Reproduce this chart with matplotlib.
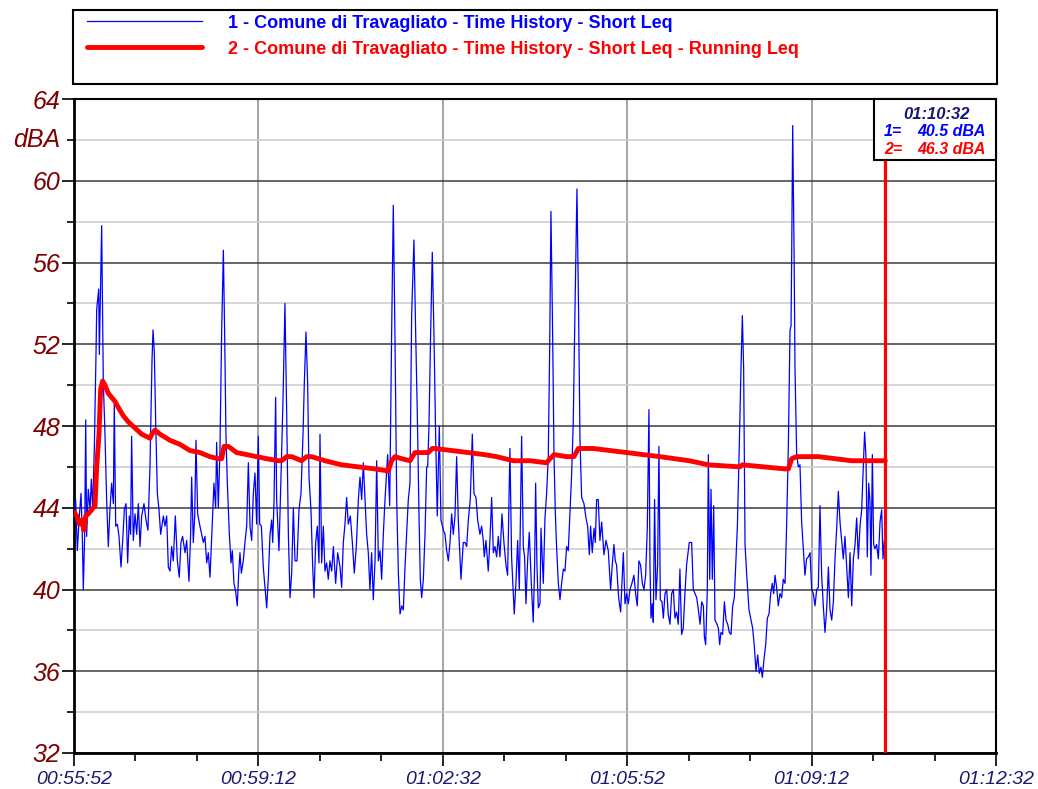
import matplotlib
matplotlib.use('Agg')
import matplotlib.pyplot as plt
from matplotlib.ticker import MultipleLocator, FuncFormatter
from matplotlib.patches import Rectangle

plt.rcParams['font.family'] = ['Liberation Sans', 'DejaVu Sans']
plt.rcParams['font.style'] = 'italic'  # tick labels are italic in the original

start_sec = 55 * 60 + 52  # 00:55:52
cursor_t = 880

# short Leq, seconds from start / dBA
blue_t = [0, 1.8, 3.6, 5.8, 7.6, 9.0, 10.1, 11.6, 12.7, 13.7, 15.5, 17.4, 18.8, 20.2, 22.0, 23.9, 24.6, 26.8,
          27.5, 30.0, 31.8, 33.6, 35.4, 37.2, 39.0, 40.8, 42.7, 43.7, 45.2, 47.0, 48.8, 51.0, 52.8, 54.6, 56.4,
          58.2, 60.0, 61.4, 62.5, 64.3, 66.2, 68.0, 69.8, 71.6, 73.4, 75.9, 78.1, 80.2, 82.4, 84.6, 85.7, 87.1,
          88.9, 90.4, 92.2, 94.0, 96.9, 98.7, 100.5, 102.3, 104.1, 105.9, 107.7, 109.9, 112.1, 114.2, 116.0,
          117.8, 120.4, 122.2, 124.7, 126.5, 127.6, 129.4, 130.9, 132.3, 134.1, 136.6, 138.4, 140.3, 142.1,
          143.9, 145.7, 147.5, 149.7, 151.8, 153.6, 154.7, 156.5, 158.3, 160.1, 162.0, 163.4, 164.8, 166.3,
          168.5, 170.3, 171.7, 173.5, 175.3, 177.1, 178.6, 180.0, 181.5, 183.6, 185.4, 187.3, 189.1, 190.9,
          192.7, 194.5, 196.3, 198.1, 199.9, 201.4, 203.2, 205.3, 207.1, 209.0, 210.8, 212.6, 214.4, 215.5,
          216.9, 218.7,
          219.8, 222.3, 224.5, 226.7, 228.8, 230.7, 232.5, 234.3, 236.1, 237.9, 239.7, 241.9, 244.0, 246.2,
          248.4, 249.8, 251.6, 253.4, 254.9, 257.0, 258.9, 260.3, 262.1, 263.9, 265.7, 266.8, 268.6, 270.4,
          272.2, 274.0, 275.8, 277.6, 279.5, 281.3, 283.8, 286.0, 288.5, 290.3, 292.1, 293.9, 295.7, 297.5,
          299.7, 301.9, 304.0, 306.2, 308.4, 310.2, 312.0, 313.8, 315.6, 317.4, 319.2, 321.0, 322.8, 324.6,
          326.5, 328.3, 330.1, 331.9, 333.7, 335.5, 337.3, 340.2, 342.4, 344.5, 346.3, 348.1, 350.0, 351.8,
          353.6, 355.4, 357.2, 359.0, 360.8, 362.6, 364.4, 366.2, 368.7, 370.6, 372.4, 374.2, 375.6, 377.1,
          378.9, 380.7, 382.5, 383.6, 385.0, 386.8, 388.6, 390.4, 392.2, 394.0, 396.2, 398.0, 400.6, 402.4,
          404.2, 406.0, 407.8, 409.6, 411.4, 413.2, 415.0, 416.8, 419.7, 422.2, 424.1, 425.9, 427.7, 429.8,
          432.0, 433.8, 436.0, 437.8, 440.3, 442.1, 443.9, 445.0,
          446.8, 449.3, 451.1, 453.0, 454.8, 456.6, 458.4, 460.2, 462.0, 464.2, 466.3, 468.5, 470.3, 472.8,
          474.6, 476.5, 477.5, 479.3, 481.2, 483.0, 485.5, 487.3, 488.7, 490.2, 492.0, 493.8, 496.0, 498.1,
          499.6, 500.7, 502.1, 503.6, 505.4, 506.5, 509.0, 510.8, 512.6, 514.4, 515.9, 517.3, 519.1, 520.6,
          522.0, 523.4, 525.3, 527.1, 528.9, 530.7, 532.5, 534.3, 536.1, 537.9, 539.7, 541.5, 543.3, 545.5,
          547.3, 548.8, 550.6, 553.1, 555.3, 557.1, 558.9, 560.3, 562.1, 564.0, 565.4, 566.8, 568.6, 570.4,
          572.3, 574.8, 577.0, 579.5, 582.0, 583.8, 585.6, 587.1, 588.5, 590.7, 592.9, 594.3, 595.8, 597.6,
          599.4, 601.2, 603.0, 605.1, 607.3, 609.1, 610.9, 612.7, 614.5, 616.4, 618.2, 620.0, 621.8, 623.6,
          624.7, 625.8, 627.2, 628.3, 629.7, 631.2, 633.0, 634.4, 635.9, 637.7, 639.2, 641.0, 642.8, 644.5,
          646.4, 648.2, 650.0, 651.8, 653.6, 655.4, 657.2, 659.0, 660.8, 662.6, 664.4, 667.3,
          669.9, 671.7, 673.5, 675.4, 677.2, 679.0, 680.8, 682.6, 683.7, 685.1, 686.9, 688.0, 689.5, 690.9,
          692.3, 693.8, 695.2, 697.4, 698.9, 700.3, 701.7, 703.5, 705.4, 707.2, 709.0, 710.8, 712.6, 714.4,
          716.2, 718.0, 719.5, 721.6, 723.4, 724.9, 726.3, 727.8, 729.9, 732.1, 734.3, 736.1, 737.9, 739.7,
          741.5, 743.3, 745.1, 746.6, 748.4, 750.2, 752.0, 753.8, 755.6, 757.4, 758.9, 760.3, 762.1, 763.9,
          765.7, 767.5, 769.3, 771.2, 773.0, 774.8, 776.6, 777.7, 778.4, 779.5, 781.0, 782.0, 783.8, 785.6,
          787.4, 789.2, 791.0, 792.8, 794.6, 796.5, 798.3, 800.1, 801.9, 803.7, 805.5, 807.3, 809.1, 810.9,
          812.7, 814.5, 816.3, 818.2, 820.0, 821.8, 823.6, 825.4, 827.2, 829.0, 830.8, 832.6, 834.4, 836.2,
          838.0, 839.9, 841.7, 843.5, 845.3, 847.1, 848.9, 850.7, 852.5, 854.3, 856.1, 857.5, 859.0, 860.4,
          861.9, 863.3, 864.4, 865.9, 867.3, 868.7, 870.5, 872.4, 874.2, 876.0, 877.4, 878.9, 880.0]
blue_v = [44.0, 44.4, 41.9, 43.6, 44.7, 42.7, 40.0, 42.7, 48.3, 42.6, 44.9, 43.9, 45.4, 44.0, 46.8, 51.6, 53.7, 54.7,
          51.5, 57.8, 50.1, 47.6, 44.4, 42.1, 43.9, 45.2, 44.2, 49.2, 43.1, 43.2, 42.6, 41.1, 42.4, 43.9, 44.2,
          41.3, 43.6, 42.7, 47.5, 42.4, 43.7, 42.7, 44.2, 42.1, 43.6, 44.2, 43.4, 42.9, 46.0, 51.2, 52.7, 51.6,
          47.6, 44.7, 43.9, 42.7, 43.6, 43.1, 43.6, 41.1, 40.9, 42.1, 41.4, 43.6, 41.4, 40.6, 42.3,
          42.6, 41.8, 42.4, 40.4, 42.7, 45.5, 42.3, 43.6, 47.3, 43.7, 43.1, 42.7, 42.3, 42.6,
          41.3, 41.8, 40.6, 42.9, 45.2, 44.0, 47.2, 44.0, 46.8, 52.5, 56.6, 52.5, 47.6, 45.2,
          42.7, 41.3, 41.9, 40.3, 39.9, 39.2, 40.8, 41.8, 40.8, 41.4, 42.3, 43.1, 46.2, 43.1,
          42.4, 44.7, 45.7, 43.2, 47.5, 43.2, 43.1, 41.1, 40.1, 39.1, 40.6, 42.7, 43.4, 42.3,
          44.2, 49.4,
          44.4, 41.9, 45.5, 49.3, 54.0, 48.5, 42.7, 39.6, 40.8, 44.0, 41.4, 41.4, 43.9, 44.7,
          47.6, 50.1, 52.6, 50.1, 45.5, 43.9, 41.1, 39.6, 42.3, 43.1, 41.3, 47.6, 41.3, 43.1,
          40.9, 41.3, 40.5, 41.4, 40.9, 42.1, 40.3, 41.8, 41.1, 40.1, 42.3, 43.2, 44.5, 43.2,
          43.6, 42.3, 40.8, 42.1, 44.4, 45.5, 44.4, 46.2, 44.4, 42.7, 41.8, 40.0, 41.8, 39.5,
          41.4, 46.3, 41.4, 41.9, 40.5, 42.7, 44.4, 46.6, 44.1, 52.5, 58.8, 52.5, 44.4, 40.8,
          38.8, 39.2, 39.0, 41.1, 42.7, 44.4, 45.2, 53.4, 57.1, 52.5, 48.5, 43.6, 40.5, 39.6,
          40.5, 42.7, 46.0, 46.0, 48.0, 52.5, 56.5, 52.5, 47.6, 43.6, 48.0, 43.4, 42.9, 42.7,
          41.9, 41.4, 42.3, 43.7, 42.7, 43.6, 46.5, 43.4, 40.5, 42.3, 42.3, 42.1, 43.4, 44.4,
          47.6, 44.7, 44.5, 43.4, 42.7, 43.1, 42.4, 41.6,
          42.4, 40.9, 42.4, 44.5, 41.8, 42.1, 41.6, 42.6, 41.6, 43.7, 42.3, 41.2, 40.7, 46.9,
          41.6, 39.8, 38.8, 40.3, 42.4, 40.0, 47.5, 42.1, 41.6, 39.3, 41.4, 42.8, 40.3, 38.4,
          41.2, 45.2, 41.2, 39.1, 39.3, 43.0, 40.3, 43.5, 44.7, 46.5, 51.7, 58.5, 52.6, 46.6,
          43.8, 42.1, 40.3, 39.5, 40.3, 41.0, 40.9, 42.1, 41.9, 43.8, 45.6, 48.2, 53.5, 59.6,
          53.5, 47.3, 44.5, 44.2, 43.5, 43.1, 41.7, 43.1, 41.8, 43.0, 42.3, 44.4, 44.4, 42.4,
          43.3, 41.7, 42.4, 41.9, 40.0, 41.2, 42.2, 41.4, 41.2, 39.6, 38.9, 40.3, 41.8, 39.3,
          39.8, 39.3, 40.0, 40.3, 40.7, 39.8, 39.2, 41.4, 41.2, 40.3, 40.0, 40.7, 43.0, 48.8,
          41.2, 38.6, 39.3, 38.4, 44.4, 39.5, 41.2, 47.0, 39.5, 39.4, 38.6, 39.8, 40.0, 38.8,
          38.3, 39.8, 40.0, 38.6, 38.9, 38.3, 41.0, 37.8, 38.1, 39.8, 41.2, 42.3,
          42.3, 40.0, 39.8, 39.6, 39.0, 38.3, 39.4, 39.2, 37.7, 37.3, 40.0, 46.6, 40.5, 44.9,
          40.5, 44.1, 38.5, 38.3, 38.1, 37.3, 37.9, 37.8, 39.4, 38.5, 38.3, 37.9, 37.8, 39.2,
          39.6, 41.5, 43.1, 47.1, 50.8, 53.4, 50.8, 42.2, 40.5, 39.0, 38.5, 38.1, 37.2, 36.0,
          36.8, 35.9, 36.2, 35.7, 36.6, 37.3, 38.6, 38.8, 39.8, 40.3, 39.8, 40.7, 40.1, 39.2,
          39.8, 39.6, 40.5, 40.3, 43.3, 47.1, 52.7, 52.9, 56.4, 62.7, 56.4, 50.8, 46.6, 46.0,
          46.1, 43.3, 42.0, 40.7, 41.5, 41.6, 41.8, 40.0, 39.8, 39.2, 40.0, 40.1, 44.1, 40.7,
          39.2, 37.9, 39.0, 41.1, 39.0, 38.5, 39.4, 41.5, 43.0, 44.8, 43.3, 42.4, 41.5, 42.6,
          41.1, 39.6, 41.8, 39.2, 41.5, 42.2, 43.5, 41.5, 43.1, 43.9, 46.0, 47.7, 46.5, 41.6,
          45.2, 44.3, 40.7, 46.6, 42.2, 42.0, 42.2, 41.5, 43.3, 43.9, 41.5, 42.4, 40.5]

# running Leq
red_t = [0, 2.9, 5.8, 8.3, 10.8, 12.7, 15.5, 19.2, 22.8, 24.6, 27.1, 28.9, 31.1, 33.6, 37.2, 40.8, 44.5, 48.1,
         53.5, 58.9, 66.2, 73.4, 82.4, 84.5, 87.8, 93.3, 104.1, 115.0, 125.8, 136.6, 147.5, 156.5, 160.1, 162.7,
         167.4, 176.4, 187.3, 198.1, 209.0, 221.6, 225.2, 230.7, 236.1, 246.9, 252.3, 257.8, 272.2, 290.3,
         308.4, 326.5, 340.9, 344.5, 348.1, 355.4, 364.4, 369.8, 384.3, 388.6, 391.5, 409.6, 427.7, 445.0,
         458.4, 476.5, 494.5, 512.6, 516.2, 520.6, 534.3, 542.2, 547.0, 563.2, 599.4, 635.5, 667.3, 688.0,
         722.3, 724.9, 771.2, 774.8, 778.4, 783.8, 807.3, 843.5, 880.0]
red_v = [43.8, 43.6, 43.2, 43.4, 42.9, 43.6, 43.7, 43.9, 44.1, 46.0, 47.6, 49.8, 50.2, 50.0, 49.6, 49.4, 49.2, 48.9,
         48.5, 48.2, 47.9, 47.6, 47.4, 47.6, 47.8, 47.6, 47.3, 47.1, 46.8, 46.7, 46.5, 46.4, 46.4, 47.0,
         47.0, 46.7, 46.6, 46.5, 46.4, 46.3, 46.3, 46.5, 46.5, 46.3, 46.5, 46.5, 46.3, 46.1,
         46.0, 45.9, 45.8, 46.3, 46.5, 46.4, 46.3, 46.7, 46.7, 46.9, 46.9, 46.8, 46.7, 46.6,
         46.5, 46.3, 46.3, 46.2, 46.4, 46.6, 46.5, 46.5, 46.9, 46.9, 46.7, 46.5, 46.3, 46.1,
         46.0, 46.1, 45.9, 45.9, 46.4, 46.5, 46.5, 46.3, 46.3]

label1 = '1 - Comune di Travagliato - Time History - Short Leq'
label2 = '2 - Comune di Travagliato - Time History - Short Leq - Running Leq'


def hms(x, pos=None):
    s = int(round(start_sec + x))
    return '%02d:%02d:%02d' % (s // 3600, (s // 60) % 60, s % 60)


fig = plt.figure(figsize=(10.38, 7.89), dpi=100)
ax = fig.add_axes([74 / 1038, 1 - 753 / 789, 922 / 1038, 654 / 789])

l1, = ax.plot(blue_t, blue_v, color='#0000ff', lw=0.9, zorder=3)
l2, = ax.plot(red_t, red_v, color='#ff0000', lw=3.5, solid_joinstyle='round', solid_capstyle='round', zorder=4)
ax.axvline(cursor_t, color='#ff0000', lw=2.3, zorder=5)

ax.set_xlim(0, 1000)
ax.set_ylim(32, 64)

ax.xaxis.set_major_locator(MultipleLocator(200))
ax.xaxis.set_minor_locator(MultipleLocator(200 / 3))
ax.xaxis.set_major_formatter(FuncFormatter(hms))
ax.yaxis.set_major_locator(MultipleLocator(4))
ax.yaxis.set_minor_locator(MultipleLocator(2))

# grid
ax.grid(True, axis='y', which='major', color='#3a3a3a', lw=1.1, zorder=1)
ax.grid(True, axis='y', which='minor', color='#cccccc', lw=1.1, zorder=0)
ax.grid(True, axis='x', which='major', color='#8c8c8c', lw=1.1, zorder=1)

ax.tick_params(axis='y', which='major', length=9, width=1.2, pad=1, labelsize=18, labelcolor='#7f0000')
ax.tick_params(axis='y', which='minor', length=5, width=1.2)
ax.tick_params(axis='x', which='major', length=9.5, width=1.2, pad=3.5, labelsize=14, labelcolor='#1a1a70')
ax.tick_params(axis='x', which='minor', length=5.5, width=1.2)

for side in ['left', 'bottom']:
    ax.spines[side].set_linewidth(2)
for side in ['top', 'right']:
    ax.spines[side].set_linewidth(1.5)

ax.annotate('dBA', xy=(0, 62), xycoords=('axes fraction', 'data'), xytext=(-10, 0), textcoords='offset points',
            ha='right', va='center', fontsize=18, color='#7f0000')

# cursor readout
ax.add_patch(Rectangle((0.8677, 0.9067), 0.1323, 0.0933, transform=ax.transAxes, facecolor='white',
                       edgecolor='black', lw=1.5, zorder=10, clip_on=False))
ax.text(0.936, 0.9765, hms(cursor_t), transform=ax.transAxes, ha='center', va='center', fontsize=12,
        weight='bold', color='#1a1a70', zorder=11)
ax.text(0.8785, 0.951, '1=', transform=ax.transAxes, ha='left', va='center', fontsize=11.5,
        weight='bold', color='#0000ff', zorder=11)
ax.text(0.989, 0.951, '%.1f dBA' % blue_v[-1], transform=ax.transAxes, ha='right', va='center', fontsize=11.5,
        weight='bold', color='#0000ff', zorder=11)
ax.text(0.8785, 0.9235, '2=', transform=ax.transAxes, ha='left', va='center', fontsize=11.5,
        weight='bold', color='#ff0000', zorder=11)
ax.text(0.989, 0.9235, '%.1f dBA' % red_v[-1], transform=ax.transAxes, ha='right', va='center', fontsize=11.5,
        weight='bold', color='#ff0000', zorder=11)

# legend box
fig.patches.append(Rectangle((73 / 1038, 1 - 84 / 789), 924 / 1038, 74 / 789, transform=fig.transFigure,
                             facecolor='white', edgecolor='black', lw=1.5))
fig.legend([l1, l2], [label1, label2], loc='upper left', bbox_to_anchor=(74 / 1038, 1 - 2 / 789),
           frameon=False, handlelength=6.4, handletextpad=1.45, labelspacing=0.5, borderpad=0.2,
           labelcolor='linecolor', prop={'weight': 'bold', 'size': 13, 'style': 'normal'})

plt.savefig('out.png', dpi=100)
